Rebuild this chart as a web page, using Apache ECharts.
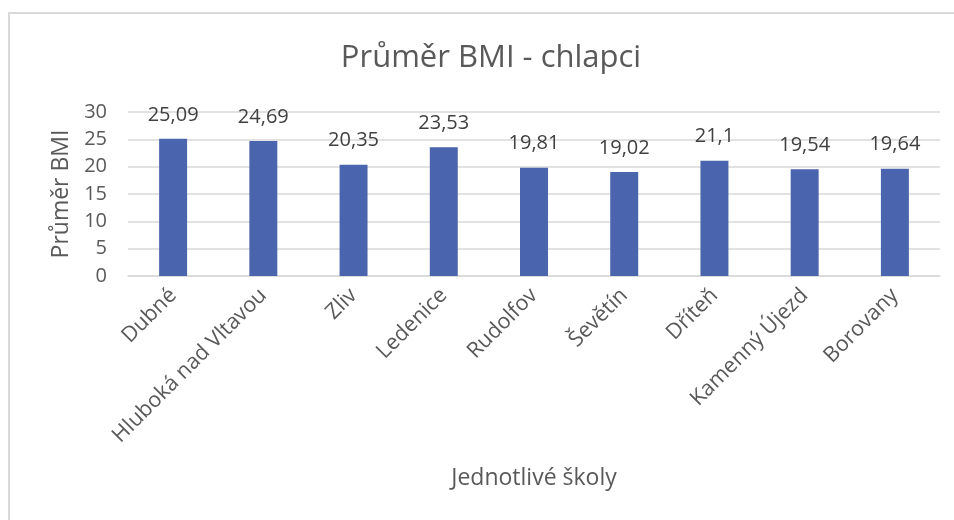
<!DOCTYPE html>
<html>
<head>
<meta charset="utf-8">
<script src="https://cdn.jsdelivr.net/npm/echarts@6/dist/echarts.min.js"></script>
<style>
  html, body { margin: 0; padding: 0; background: #ffffff; }
  #chart { width: 954px; height: 520px; }
</style>
</head>
<body>
<div id="chart"></div>
<script>
// Schools (categories) and average BMI of boys
const schools = ['Dubné', 'Hluboká nad Vltavou', 'Zliv', 'Ledenice', 'Rudolfov', 'Ševětín', 'Dříteň', 'Kamenný Újezd', 'Borovany'];
const bmiValues = [25.09, 24.69, 20.35, 23.53, 19.81, 19.02, 21.1, 19.54, 19.64];
const yTicks = [0, 5, 10, 15, 20, 25, 30];

const titleText = 'Průměr BMI - chlapci';
const yAxisTitle = 'Průměr BMI';
const xAxisTitle = 'Jednotlivé školy';

const FONT = '"Open Sans", "Noto Sans", sans-serif';
const TEXT = '#595959';
const GRID = '#d9d9d9';

const chart = echarts.init(document.getElementById('chart'), null, { renderer: 'canvas' });

chart.setOption({
  backgroundColor: '#ffffff',
  animation: false,
  textStyle: { fontFamily: FONT },
  graphic: [{
    type: 'rect',
    silent: true,
    shape: { x: 9, y: 13, width: 1000, height: 600 },
    style: { fill: 'none', stroke: GRID, lineWidth: 2 }
  }],
  title: {
    text: titleText,
    left: 486,
    top: 38,
    textAlign: 'center',
    textStyle: { fontFamily: FONT, fontSize: 31, fontWeight: 'normal', color: TEXT }
  },
  grid: { left: 128, right: 14, top: 112, bottom: 244 },
  xAxis: {
    type: 'category',
    data: schools,
    name: xAxisTitle,
    nameLocation: 'middle',
    nameGap: 191,
    nameTextStyle: { fontFamily: FONT, fontSize: 23, color: TEXT },
    axisLine: { lineStyle: { color: GRID, width: 1.5 } },
    axisTick: { show: false },
    axisLabel: { rotate: 45, fontFamily: FONT, fontSize: 21.5, color: TEXT, margin: 16, interval: 0 }
  },
  yAxis: {
    type: 'value',
    min: yTicks[0],
    max: yTicks[yTicks.length - 1],
    interval: yTicks[1] - yTicks[0],
    name: yAxisTitle,
    nameLocation: 'middle',
    nameGap: 53,
    nameRotate: 90,
    nameTextStyle: { fontFamily: FONT, fontSize: 23, color: TEXT },
    axisLine: { show: false },
    axisTick: { show: false },
    axisLabel: { fontFamily: FONT, fontSize: 20, color: TEXT, margin: 21 },
    splitLine: { lineStyle: { color: GRID, width: 1.5 } }
  },
  series: [{
    type: 'bar',
    data: bmiValues,
    barWidth: '31%',
    itemStyle: { color: '#4a65ad' },
    label: {
      show: true,
      position: 'top',
      distance: 14,
      fontFamily: FONT,
      fontSize: 20,
      color: '#404040',
      formatter: p => String(p.value).replace('.', ',')
    }
  }]
});
</script>
</body>
</html>
